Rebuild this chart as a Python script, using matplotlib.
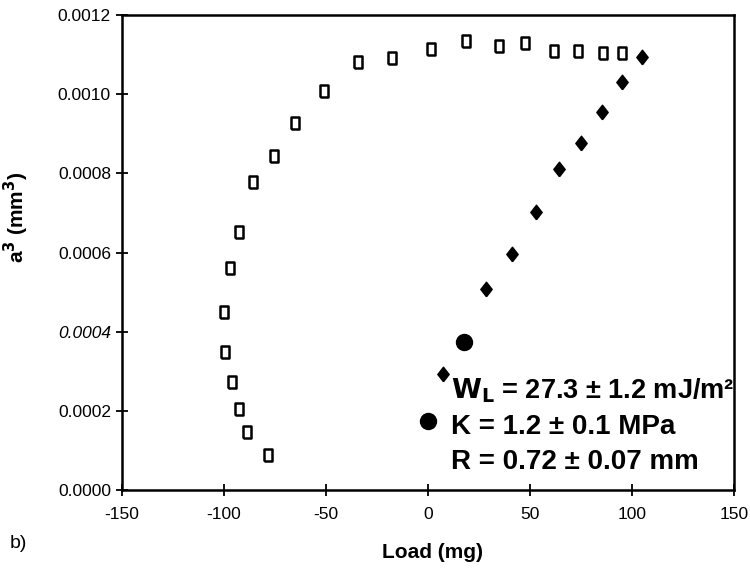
import matplotlib
matplotlib.use('Agg')
import matplotlib.pyplot as plt

plt.rcParams['font.family'] = ['Liberation Sans', 'DejaVu Sans']
plt.rcParams['axes.unicode_minus'] = False

# open squares (loading / unloading sweep)
sq_load = [-100.0, -99.4, -96.3, -92.7, -88.6, -78.5,
           -97.0, -92.7, -85.6, -75.5, -65.3, -51.1, -34.5, -17.6,
           1.4, 18.7, 34.9, 47.7, 61.9, 73.4, 85.8, 95.3]
sq_a3 = [0.000449, 0.000348, 0.000272, 0.000205, 0.000146, 0.0000884,
         0.000562, 0.000653, 0.000777, 0.000845, 0.000926, 0.001009, 0.001081, 0.001092,
         0.001114, 0.001134, 0.001122, 0.001130, 0.001109, 0.001109, 0.001103, 0.001103]

# filled diamonds
dia_load = [7.1, 28.4, 41.0, 52.7, 64.3, 75.1, 85.2, 95.3, 104.9]
dia_a3 = [0.000293, 0.000508, 0.000596, 0.000703, 0.000810, 0.000877, 0.000956, 0.001030, 0.001093]

# filled circles
circ_load = [0.0, 17.4]
circ_a3 = [0.000175, 0.000375]

x_ticks = [-150, -100, -50, 0, 50, 100, 150]
y_ticks = [0.0, 0.0002, 0.0004, 0.0006, 0.0008, 0.0010, 0.0012]

fit_lines = [r'$\mathbf{W_L}$ = 27.3 ± 1.2 mJ/m²',
             'K = 1.2 ± 0.1 MPa',
             'R = 0.72 ± 0.07 mm']
fit_y = [0.000251, 0.000159, 0.0000705]
fit_size = [19.5, 20, 20]

fig = plt.figure(figsize=(7.5, 5.68), dpi=100)
ax = fig.add_axes([0.1627, 0.1373, 0.816, 0.8363])

rect = [(-0.7, -1), (0.7, -1), (0.7, 1), (-0.7, 1), (-0.7, -1)]
diamond = [(0, -1), (0.78, 0), (0, 1), (-0.78, 0), (0, -1)]
ax.plot(sq_load, sq_a3, linestyle='none', marker=rect, markersize=9,
        markerfacecolor='white', markeredgecolor='black', markeredgewidth=1.8)
ax.plot(dia_load, dia_a3, linestyle='none', marker=diamond, markersize=10.5,
        markerfacecolor='black', markeredgecolor='black')
ax.plot(circ_load, circ_a3, linestyle='none', marker='o', markersize=11.5,
        markerfacecolor='black', markeredgecolor='black')

ax.set_xlim(-150, 150)
ax.set_ylim(0, 0.0012)
ax.set_xticks(x_ticks)
ax.set_yticks(y_ticks)
ax.set_yticklabels([f'{v:.4f}' for v in y_ticks])
ax.tick_params(direction='inout', length=9, width=1.3, labelsize=12.5)
ax.tick_params(axis='x', pad=8)
for s in ax.spines.values():
    s.set_linewidth(1.8)

for lbl in ax.get_yticklabels():
    if lbl.get_text() == '0.0004':
        lbl.set_style('italic')

ax.set_xlabel('Load (mg)', fontsize=15, fontweight='bold')
ax.xaxis.set_label_coords(0.507, -0.112)
ax.set_ylabel(r'a$^\mathbf{3}$ (mm$^\mathbf{3}$)', fontsize=15, fontweight='bold')
ax.yaxis.set_label_coords(-0.148, 0.575)

for t, yy, fs in zip(fit_lines, fit_y, fit_size):
    ax.text(11.5, yy, t, fontsize=fs, fontweight='bold', va='center', ha='left')

fig.text(0.013, 0.035, 'b)', fontsize=14)

fig.savefig('out.png', dpi=100)
